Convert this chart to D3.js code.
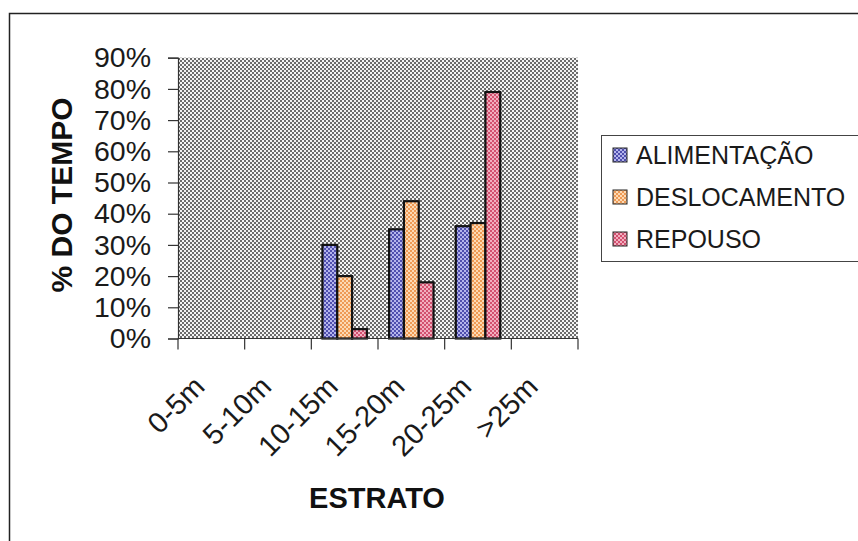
<!DOCTYPE html>
<html>
<head>
<meta charset="utf-8">
<script src="https://cdn.jsdelivr.net/npm/d3@7"></script>
<style>
  html, body { margin: 0; padding: 0; background: #fff; }
  svg { display: block; font-family: "Liberation Sans", Arial, sans-serif; }
</style>
</head>
<body>
<svg id="chart" width="858" height="541"></svg>
<script>
// Strata (height classes) and share of time per activity
const categories = ["0-5m", "5-10m", "10-15m", "15-20m", "20-25m", ">25m"];
const seriesNames = ["ALIMENTAÇÃO", "DESLOCAMENTO", "REPOUSO"];
const alimentacao = [null, null, 0.30, 0.35, 0.36, null];
const deslocamento = [null, null, 0.20, 0.44, 0.37, null];
const repouso = [null, null, 0.03, 0.18, 0.79, null];
const yTicks = [0, 0.1, 0.2, 0.3, 0.4, 0.5, 0.6, 0.7, 0.8, 0.9];

const seriesValues = [alimentacao, deslocamento, repouso];
const seriesColors = [
  { dark: "#4f4fae", light: "#b4b4ec" },
  { dark: "#ee9a55", light: "#fcd9b4" },
  { dark: "#d2506f", light: "#f2aebf" }
];

const svg = d3.select("#chart");
const defs = svg.append("defs");

// Checker dither used for the plot background
const bg = defs.append("pattern").attr("id", "bgDither")
  .attr("width", 4).attr("height", 4).attr("patternUnits", "userSpaceOnUse");
bg.append("rect").attr("width", 4).attr("height", 4).attr("fill", "#f4f4f4");
bg.append("rect").attr("x", 0).attr("y", 0).attr("width", 2).attr("height", 2).attr("fill", "#6c6c6c");
bg.append("rect").attr("x", 2).attr("y", 2).attr("width", 2).attr("height", 2).attr("fill", "#6c6c6c");

// Checker fills for each series
seriesColors.forEach((c, i) => {
  const p = defs.append("pattern").attr("id", "fill" + i)
    .attr("width", 4).attr("height", 4).attr("patternUnits", "userSpaceOnUse");
  p.append("rect").attr("width", 4).attr("height", 4).attr("fill", c.light);
  p.append("rect").attr("x", 0).attr("y", 0).attr("width", 2).attr("height", 2).attr("fill", c.dark);
  p.append("rect").attr("x", 2).attr("y", 2).attr("width", 2).attr("height", 2).attr("fill", c.dark);
});

// Outer chart frame
svg.append("rect")
  .attr("x", 9.5).attr("y", 13.5).attr("width", 900).attr("height", 600)
  .attr("fill", "none").attr("stroke", "#222").attr("stroke-width", 1.5);

const plot = { left: 178, right: 578, top: 57.7, bottom: 338.5 };

const x = d3.scaleBand().domain(categories).range([plot.left, plot.right]).padding(0);
const xs = d3.scaleBand().domain(d3.range(seriesNames.length))
  .range([0, x.bandwidth()]).paddingInner(0).paddingOuter(0.75);
const y = d3.scaleLinear().domain([0, 0.9]).range([plot.bottom, plot.top]);

// Plot area
svg.append("rect")
  .attr("x", plot.left).attr("y", plot.top)
  .attr("width", plot.right - plot.left).attr("height", plot.bottom - plot.top)
  .attr("fill", "url(#bgDither)");

// Bars
const groups = svg.append("g").selectAll("g")
  .data(seriesValues).join("g")
  .attr("fill", (d, i) => "url(#fill" + i + ")");

groups.each(function(vals, si) {
  const rows = categories.map((c, ci) => ({ c, v: vals[ci] })).filter(d => d.v != null);
  d3.select(this).selectAll("rect").data(rows).join("rect")
    .attr("x", d => x(d.c) + xs(si))
    .attr("y", d => y(d.v))
    .attr("width", xs.bandwidth())
    .attr("height", d => y(0) - y(d.v))
    .attr("stroke", "#111").attr("stroke-width", 2.2);
});

// Y axis
const yAxis = svg.append("g")
  .attr("transform", `translate(${plot.left},0)`)
  .call(d3.axisLeft(y).tickValues(yTicks).tickFormat(d3.format(".0%")).tickSize(10).tickPadding(17));
yAxis.select(".domain").attr("stroke", "#333").attr("stroke-width", 1.2);
yAxis.selectAll(".tick line").attr("stroke", "#333").attr("stroke-width", 1.2);
yAxis.selectAll(".tick text")
  .attr("font-size", 28.5).attr("fill", "#1a1a1a")
  .attr("font-family", "'Liberation Sans', Arial, sans-serif");

// X axis with boundary ticks between categories
const xAxisG = svg.append("g").attr("transform", `translate(0,${plot.bottom})`);
xAxisG.append("line")
  .attr("x1", plot.left).attr("x2", plot.right)
  .attr("stroke", "#333").attr("stroke-width", 1.2);
const boundaries = categories.map(c => x(c)).concat([x(categories[categories.length - 1]) + x.bandwidth()]);
xAxisG.selectAll("line.tick").data(boundaries).join("line")
  .attr("class", "tick")
  .attr("x1", d => d).attr("x2", d => d).attr("y1", 0).attr("y2", 11)
  .attr("stroke", "#333").attr("stroke-width", 1.2);
xAxisG.selectAll("text").data(categories).join("text")
  .attr("transform", d => `translate(${x(d) + x.bandwidth() / 2 - 5},${50}) rotate(-45)`)
  .attr("text-anchor", "end")
  .attr("font-size", 29).attr("fill", "#1a1a1a")
  .text(d => d);

// Axis titles
svg.append("text")
  .attr("x", 377).attr("y", 508)
  .attr("text-anchor", "middle")
  .attr("font-size", 29).attr("font-weight", "bold").attr("fill", "#111")
  .text("ESTRATO");

svg.append("text")
  .attr("transform", "translate(72,195) rotate(-90)")
  .attr("text-anchor", "middle")
  .attr("font-size", 30).attr("font-weight", "bold").attr("fill", "#111")
  .text("% DO TEMPO");

// Legend
const legend = svg.append("g");
legend.append("rect")
  .attr("x", 601.5).attr("y", 135.5).attr("width", 400).attr("height", 126)
  .attr("fill", "#fff").attr("stroke", "#444").attr("stroke-width", 1);
const items = legend.selectAll("g.item").data(seriesNames).join("g")
  .attr("class", "item")
  .attr("transform", (d, i) => `translate(0,${155 + i * 42})`);
items.append("rect")
  .attr("x", 613).attr("y", -7).attr("width", 14).attr("height", 14)
  .attr("fill", (d, i) => "url(#fill" + i + ")")
  .attr("stroke", "#222").attr("stroke-width", 1);
items.append("text")
  .attr("x", 636).attr("y", 0).attr("dy", "0.35em")
  .attr("font-size", 25).attr("fill", "#1a1a1a")
  .text(d => d);
</script>
</body>
</html>
